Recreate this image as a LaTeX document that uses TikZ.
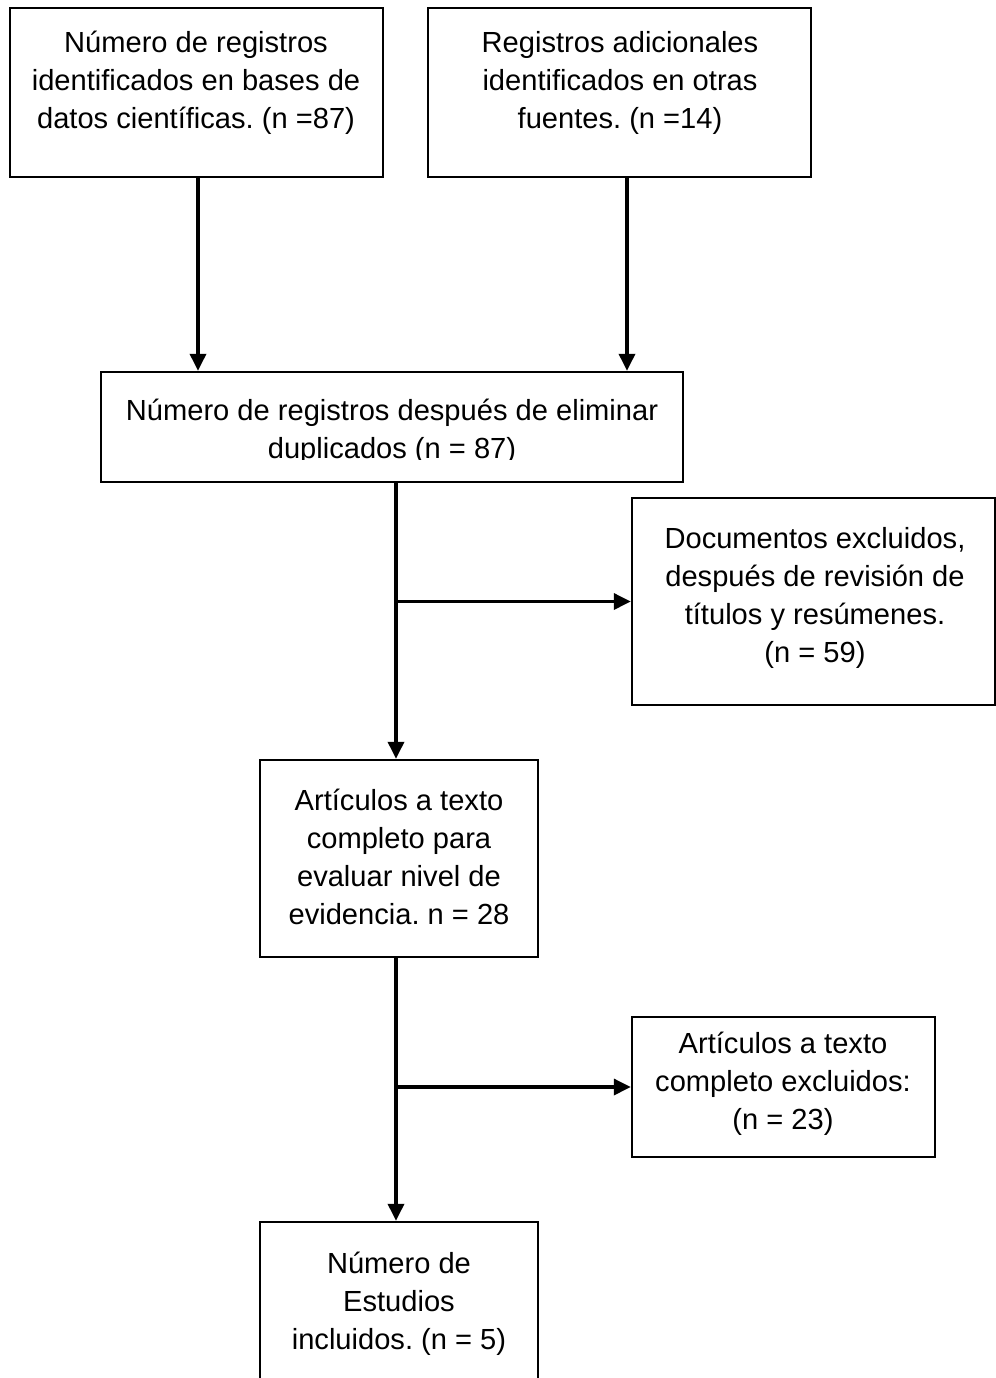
\documentclass[tikz,border=0pt]{standalone}
\usepackage{fontspec}
\setmainfont{Liberation Sans}[Ligatures=NoCommon]
\usetikzlibrary{arrows.meta}
\frenchspacing
\begin{document}
\begin{tikzpicture}[x=0.5pt,y=-0.5pt,
  box/.style={draw=black,line width=1.2pt,rectangle,inner sep=0pt},
  txt/.style={align=center,inner sep=0pt,font=\fontsize{14.55}{19}\selectfont},
  arr/.style={line width=1.7pt,-{Triangle[length=8.5pt,width=8pt]}}]
\useasboundingbox (0,0) rectangle (996,1378);
\clip (0,0) rectangle (996,1378);
\node[box,minimum width=186.5pt,minimum height=84.5pt] (b1) at (196.5,92.5) {};
\node[txt] (t1) at (196,83) {Número de registros\\identificados en bases de\\datos científicas. (n =87)};
\node[box,minimum width=191.5pt,minimum height=84.5pt] (b2) at (619.5,92.5) {};
\node[txt] (t2) at (620,83) {Registros adicionales\\identificados en otras\\fuentes. (n =14)};
\node[box,minimum width=291pt,minimum height=55pt] (b3) at (392,427) {};
\begin{scope}
\clip (101,372) rectangle (683,459);
\node[txt] (t3) at (392,432) {Número de registros después de eliminar\\duplicados (n = 87)};
\end{scope}
\node[box,minimum width=181.5pt,minimum height=103.5pt] (b4) at (813.5,601.5) {};
\node[txt] (t4) at (815,597.5) {Documentos excluidos,\\después de revisión de\\títulos y resúmenes.\\(n = 59)};
\node[box,minimum width=139pt,minimum height=98.5pt] (b5) at (399,858.5) {};
\node[txt] (t5) at (399,857) {Artículos a texto\\completo para\\evaluar nivel de\\evidencia. n = 28};
\node[box,minimum width=151.5pt,minimum height=70pt] (b6) at (783.5,1087) {};
\node[txt] (t6) at (783,1084) {Artículos a texto\\completo excluidos:\\(n = 23)};
\node[box,minimum width=139pt,minimum height=129pt] (b7) at (399,1351) {};
\node[txt] (t7) at (399,1304) {Número de\\Estudios\\incluidos. (n = 5)};
\coordinate (c1) at (198,0);
\coordinate (c2) at (627,0);
\coordinate (vx) at (396,0);
\draw[arr] (b1.south -| c1) -- (b3.north -| c1);
\draw[arr] (b2.south -| c2) -- (b3.north -| c2);
\draw[arr] (b3.south -| vx) -- (b5.north -| vx);
\draw[arr] (b4.west -| vx) -- (b4.west);
\draw[arr] (b5.south -| vx) -- (b7.north -| vx);
\draw[arr] (b6.west -| vx) -- (b6.west);
\end{tikzpicture}
\end{document}
